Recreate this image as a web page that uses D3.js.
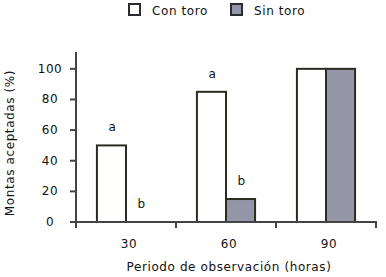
<!DOCTYPE html>
<html>
<head>
<meta charset="utf-8">
<script src="https://cdn.jsdelivr.net/npm/d3@7"></script>
<style>
  body { margin: 0; background: #fff; }
  text { font-family: "DejaVu Sans", Verdana, sans-serif; fill: #111; letter-spacing: 0.6px; }
</style>
</head>
<body>
<div id="chart"></div>
<script>
const periods = ["30", "60", "90"];
const series = ["Con toro", "Sin toro"];
const conToro = [50, 85, 100];
const sinToro = [0, 15, 100];
const letters = [["a", "b"], ["a", "b"], [null, null]];
const yTicks = [0, 20, 40, 60, 80, 100];
const colors = ["#ffffff", "#9595a8"];

const width = 386, height = 277;

const svg = d3.select("#chart")
  .append("svg")
  .attr("width", width)
  .attr("height", height);

const x = d3.scaleBand().domain(periods).range([76, 376]);
const xs = d3.scaleBand().domain(series).range([0, x.bandwidth()]).paddingOuter(0.72);
const y = d3.scaleLinear().domain([0, 111]).range([222, 52]);

const rows = periods.map((p, i) => ({ period: p, values: [conToro[i], sinToro[i]] }));

// bars
const groups = svg.append("g")
  .selectAll("g")
  .data(rows)
  .join("g")
  .attr("transform", d => `translate(${x(d.period)},0)`);

groups.selectAll("rect")
  .data(d => d.values.map((v, j) => ({ key: series[j], value: v })))
  .join("rect")
  .filter(d => d.value > 0)
  .attr("x", d => xs(d.key))
  .attr("y", d => y(d.value))
  .attr("width", xs.bandwidth())
  .attr("height", d => y(0) - y(d.value))
  .attr("fill", d => colors[series.indexOf(d.key)])
  .attr("stroke", "#2b2b22")
  .attr("stroke-width", 2);

// significance letters
groups.selectAll("text.lt")
  .data((d, i) => d.values.map((v, j) => ({ key: series[j], value: v, letter: letters[i][j] })))
  .join("text")
  .attr("class", "lt")
  .filter(d => d.letter)
  .attr("x", d => xs(d.key) + xs.bandwidth() / 2 + 1)
  .attr("y", d => y(d.value) - 14)
  .attr("text-anchor", "middle")
  .attr("font-size", 12)
  .text(d => d.letter);

// y axis
const axisColor = "#444";
svg.append("line")
  .attr("x1", 76).attr("x2", 76)
  .attr("y1", y(111)).attr("y2", y(0) + 6)
  .attr("stroke", axisColor).attr("stroke-width", 2);

const yAxis = svg.append("g");
yAxis.selectAll("line")
  .data(yTicks)
  .join("line")
  .attr("x1", 70).attr("x2", 76)
  .attr("y1", d => y(d)).attr("y2", d => y(d))
  .attr("stroke", axisColor).attr("stroke-width", 2);
yAxis.selectAll("text")
  .data(yTicks)
  .join("text")
  .attr("x", 50)
  .attr("y", d => y(d) + 4)
  .attr("text-anchor", "middle")
  .attr("font-size", 12)
  .text(d => d);

// x axis
svg.append("line")
  .attr("x1", 70).attr("x2", 377)
  .attr("y1", y(0)).attr("y2", y(0))
  .attr("stroke", axisColor).attr("stroke-width", 2);

svg.append("g")
  .selectAll("line")
  .data(periods)
  .join("line")
  .attr("x1", d => x(d) + x.bandwidth()).attr("x2", d => x(d) + x.bandwidth())
  .attr("y1", y(0)).attr("y2", y(0) + 6)
  .attr("stroke", axisColor).attr("stroke-width", 2);

svg.append("g")
  .selectAll("text")
  .data(periods)
  .join("text")
  .attr("x", d => x(d) + x.bandwidth() / 2 + 3)
  .attr("y", 248)
  .attr("text-anchor", "middle")
  .attr("font-size", 12)
  .text(d => d);

svg.append("text")
  .attr("x", 229)
  .attr("y", 271)
  .attr("text-anchor", "middle")
  .attr("font-size", 12)
  .text("Periodo de observación (horas)");

svg.append("text")
  .attr("transform", "translate(14,143) rotate(-90)")
  .attr("text-anchor", "middle")
  .attr("font-size", 12)
  .text("Montas aceptadas (%)");

// legend
const legend = svg.append("g")
  .selectAll("g")
  .data(series)
  .join("g")
  .attr("transform", (d, i) => `translate(${129 + i * 102},4)`);

legend.append("rect")
  .attr("width", 11).attr("height", 11)
  .attr("fill", (d, i) => colors[i])
  .attr("stroke", "#2b2b33")
  .attr("stroke-width", 2);

legend.append("text")
  .attr("x", 23)
  .attr("y", 10.5)
  .attr("font-size", 12)
  .text(d => d);
</script>
</body>
</html>
